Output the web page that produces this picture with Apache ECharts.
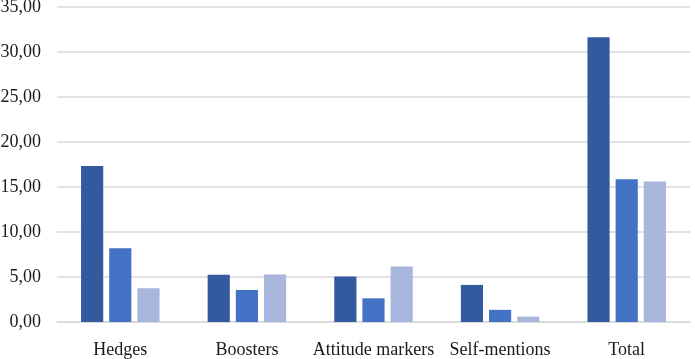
<!DOCTYPE html>
<html><head><meta charset="utf-8">
<script src="https://cdn.jsdelivr.net/npm/echarts@6/dist/echarts.min.js"></script>
<style>html,body{margin:0;padding:0;background:#fff}#c{width:695px;height:359px}</style>
</head><body><div id="c"></div>
<script>
const categories = ["Hedges", "Boosters", "Attitude markers", "Self-mentions", "Total"];
const series1 = [17.33, 5.25, 5.05, 4.12, 31.63];
const series2 = [8.19, 3.56, 2.63, 1.35, 15.85];
const series3 = [3.75, 5.28, 6.17, 0.6, 15.6];
const yTicks = [0, 5, 10, 15, 20, 25, 30, 35];

const chart = echarts.init(document.getElementById('c'), null, {renderer: 'canvas'});
const font = '"Liberation Serif", "DejaVu Serif", serif';
const mk = (data, color) => ({type: 'bar', data, itemStyle: {color}, barGap: '27%', barCategoryGap: '38%'});
chart.setOption({
  animation: false,
  grid: {left: 57, right: 5, top: 7, bottom: 37, containLabel: false, outerBoundsMode: 'none'},
  xAxis: {
    type: 'category', data: categories,
    axisLine: {show: true, lineStyle: {color: '#d9d9d9', width: 1.5}},
    axisTick: {show: false},
    axisLabel: {color: '#1a1a1a', fontFamily: font, fontSize: 18, margin: 19, interval: 0}
  },
  yAxis: {
    type: 'value', min: yTicks[0], max: yTicks[yTicks.length - 1], interval: 5,
    axisLine: {show: false}, axisTick: {show: false},
    splitLine: {lineStyle: {color: '#d9d9d9', width: 1.5}},
    axisLabel: {color: '#1a1a1a', fontFamily: font, fontSize: 18, margin: 16,
      formatter: v => v.toFixed(2).replace('.', ',')}
  },
  series: [mk(series1, '#335a9f'), mk(series2, '#4472c4'), mk(series3, '#a8b6dd')]
});
</script></body></html>
